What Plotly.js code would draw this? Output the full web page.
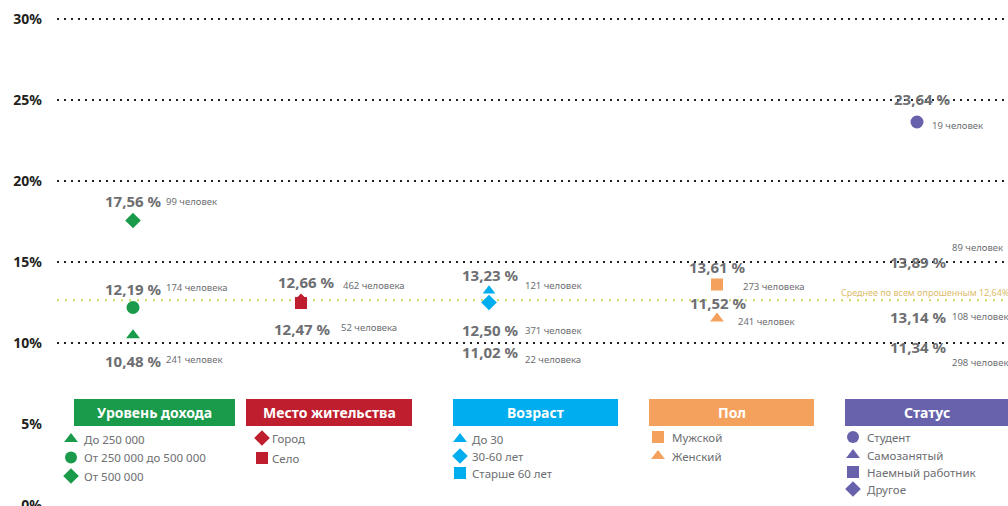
<!DOCTYPE html>
<html>
<head>
<meta charset="utf-8">
<script src="https://cdn.plot.ly/plotly-3.0.1.min.js"></script>
<style>html,body{margin:0;padding:0;background:#fff;}#chart{width:1008px;height:506px;}</style>
</head>
<body>
<div id="chart"></div>
<script>
// ---------------- DATA ----------------
const groupNames = ['Уровень дохода', 'Место жительства', 'Возраст', 'Пол', 'Статус'];

const incomeLabels = ['До 250 000', 'От 250 000 до 500 000', 'От 500 000'];
const incomeValues = [10.48, 12.19, 17.56];
const incomeCounts = ['241 человек', '174 человека', '99 человек'];

const placeLabels = ['Город', 'Село'];
const placeValues = [12.66, 12.47];
const placeCounts = ['462 человека', '52 человека'];

const ageLabels = ['До 30', '30-60 лет', 'Старше 60 лет'];
const ageValues = [13.23, 12.50, 11.02];
const ageCounts = ['121 человек', '371 человек', '22 человека'];

const sexLabels = ['Мужской', 'Женский'];
const sexValues = [13.61, 11.52];
const sexCounts = ['273 человека', '241 человек'];

const statusLabels = ['Студент', 'Самозанятый', 'Наемный работник', 'Другое'];
const statusValues = [23.64, 13.89, 13.14, 11.34];
const statusCounts = ['19 человек', '89 человек', '108 человек', '298 человек'];

const averageValue = 12.64;
const averageLabel = 'Среднее по всем опрошенным 12,64%';

const yTickValues = [0, 5, 10, 15, 20, 25, 30];
const gridValues = [10, 15, 20, 25, 30];

// ---------------- STYLE / LAYOUT ----------------
const FONT = 'Noto Sans, Open Sans, sans-serif';
const groups = [
  {labels: incomeLabels, values: incomeValues, counts: incomeCounts, color: '#1a9b4b',
   symbols: ['triangle-up', 'circle', 'diamond'], show: [1, 1, 1], plotSize: [12, 13, 12],
   pct: [[0, -26], [0, 18.5], [0, 19.5]], cnt: [[31, -24], [31, 20.5], [31, 19.5]],
   box: [74, 235], lx: 71, tx: 82, ly: [439, 457.5, 476]},
  {labels: placeLabels, values: placeValues, counts: placeCounts, color: '#be1e2d',
   symbols: ['diamond', 'square'], show: [1, 1], plotSize: [10, 12],
   pct: [[5, 18], [1, -26]], cnt: [[40, 14], [38, -25]],
   box: [246, 412], lx: 262, tx: 270, ly: [438, 458]},
  {labels: ageLabels, values: ageValues, counts: ageCounts, color: '#00adee',
   symbols: ['triangle-up', 'diamond', 'square'], show: [1, 1, 0], plotSize: [11, 12, 12],
   pct: [[1, 16], [1, -27.5], [1, -25.5]], cnt: [[34, 5], [34, -27.5], [34, -33.5]],
   box: [453, 618], lx: 460, tx: 470, ly: [439, 456, 473]},
  {labels: sexLabels, values: sexValues, counts: sexCounts, color: '#f4a15d',
   symbols: ['square', 'triangle-up'], show: [1, 1], plotSize: [12, 12],
   pct: [[0, 17.5], [1, 15]], cnt: [[24, -1.5], [19, -3.6]],
   box: [649, 814], lx: 658, tx: 670, ly: [437, 456]},
  {labels: statusLabels, values: statusValues, counts: statusCounts, color: '#6762ab',
   symbols: ['circle', 'triangle-up', 'square', 'diamond'], show: [1, 0, 0, 0], plotSize: [13, 12, 12, 12],
   pct: [[5, 23], [1, 18], [1, -25], [1, -26]], cnt: [[13, -3], [33, 32], [33, -24], [33, -41]],
   box: [845, 1008], lx: 853, tx: 865, ly: [437, 455, 472, 489]}
];
const groupX = [133, 301, 489, 717, 917];
const legendSize = {'triangle-up': 12, 'circle': 12, 'diamond': 12, 'square': 12};

const traces = [];
const annotations = [];
const shapes = [];

// grid lines
gridValues.forEach(v => shapes.push({type: 'line', xref: 'paper', yref: 'y', x0: 0, x1: 1, y0: v, y1: v,
  line: {color: '#231f20', width: 2, dash: '2px,5px'}, layer: 'below'}));
// average line
shapes.push({type: 'line', xref: 'paper', yref: 'y', x0: 0, x1: 1, y0: averageValue, y1: averageValue,
  line: {color: '#cbd95f', width: 2, dash: '2px,6px'}, layer: 'below'});
annotations.push({xref: 'paper', yref: 'y', x: 1, y: averageValue, xanchor: 'right', yanchor: 'middle',
  yshift: 8, xshift: 4, showarrow: false, text: averageLabel, font: {family: FONT, size: 9, color: '#dcbc6a'}});

const fmt = v => v.toFixed(2).replace('.', ',') + ' %';

groups.forEach((g, gi) => {
  const xs = [], ys = [], syms = [], sizes = [];
  g.values.forEach((v, i) => {
    if (g.show[i]) { xs.push(groupX[gi]); ys.push(v); syms.push(g.symbols[i]); sizes.push(g.plotSize[i]); }
    annotations.push({xref: 'x', yref: 'y', x: groupX[gi], y: v, xanchor: 'center', yanchor: 'middle',
      xshift: g.pct[i][0], yshift: g.pct[i][1], showarrow: false, text: fmt(v),
      font: {family: FONT, size: 15, color: '#6d6e71', weight: 700}});
    annotations.push({xref: 'x', yref: 'y', x: groupX[gi], y: v, xanchor: 'left', yanchor: 'middle',
      xshift: g.cnt[i][0], yshift: g.cnt[i][1], showarrow: false, text: g.counts[i],
      font: {family: FONT, size: 9.5, color: '#6d6e71'}});
  });
  traces.push({type: 'scatter', mode: 'markers', x: xs, y: ys, xaxis: 'x', yaxis: 'y',
    marker: {symbol: syms, size: sizes, color: g.color, opacity: 1, line: {width: 0}},
    hoverinfo: 'skip', showlegend: false});

  // legend header box
  shapes.push({type: 'rect', xref: 'x', yref: 'y2', x0: g.box[0], x1: g.box[1], y0: 399, y1: 426,
    fillcolor: g.color, line: {width: 0}, layer: 'above'});
  annotations.push({xref: 'x', yref: 'y2', x: (g.box[0] + g.box[1]) / 2, y: 412.5, xanchor: 'center', yanchor: 'middle',
    showarrow: false, text: groupNames[gi], font: {family: FONT, size: 14, color: '#ffffff', weight: 700}});
  // legend items
  traces.push({type: 'scatter', mode: 'markers', x: g.labels.map(() => g.lx), y: g.ly, xaxis: 'x', yaxis: 'y2',
    marker: {symbol: g.symbols, size: g.symbols.map(s => legendSize[s]), color: g.color, opacity: 1, line: {width: 0}},
    hoverinfo: 'skip', showlegend: false, cliponaxis: false});
  g.labels.forEach((lab, i) => annotations.push({xref: 'x', yref: 'y2', x: g.tx, y: g.ly[i], xanchor: 'left',
    yanchor: 'middle', showarrow: false, text: lab, font: {family: FONT, size: 11.5, color: '#6d6e71'}}));
});

const layout = {
  width: 1008, height: 506,
  margin: {l: 57, r: 0, t: 0, b: 0, pad: 0},
  paper_bgcolor: '#ffffff', plot_bgcolor: '#ffffff',
  showlegend: false,
  xaxis: {range: [57, 1008], visible: false, fixedrange: true},
  yaxis: {range: [-0.06, 31.17], tickvals: yTickValues, ticktext: yTickValues.map(v => v + '%'),
    showgrid: false, zeroline: false, showline: false, ticks: '', ticklabelstandoff: 14,
    ticklabeloverflow: 'allow',
    tickfont: {family: FONT, size: 14, color: '#231f20', weight: 700}, fixedrange: true},
  yaxis2: {range: [506, 0], overlaying: 'y', visible: false, fixedrange: true},
  shapes: shapes,
  annotations: annotations
};

Plotly.newPlot('chart', traces, layout, {displayModeBar: false, staticPlot: true});
</script>
</body>
</html>
